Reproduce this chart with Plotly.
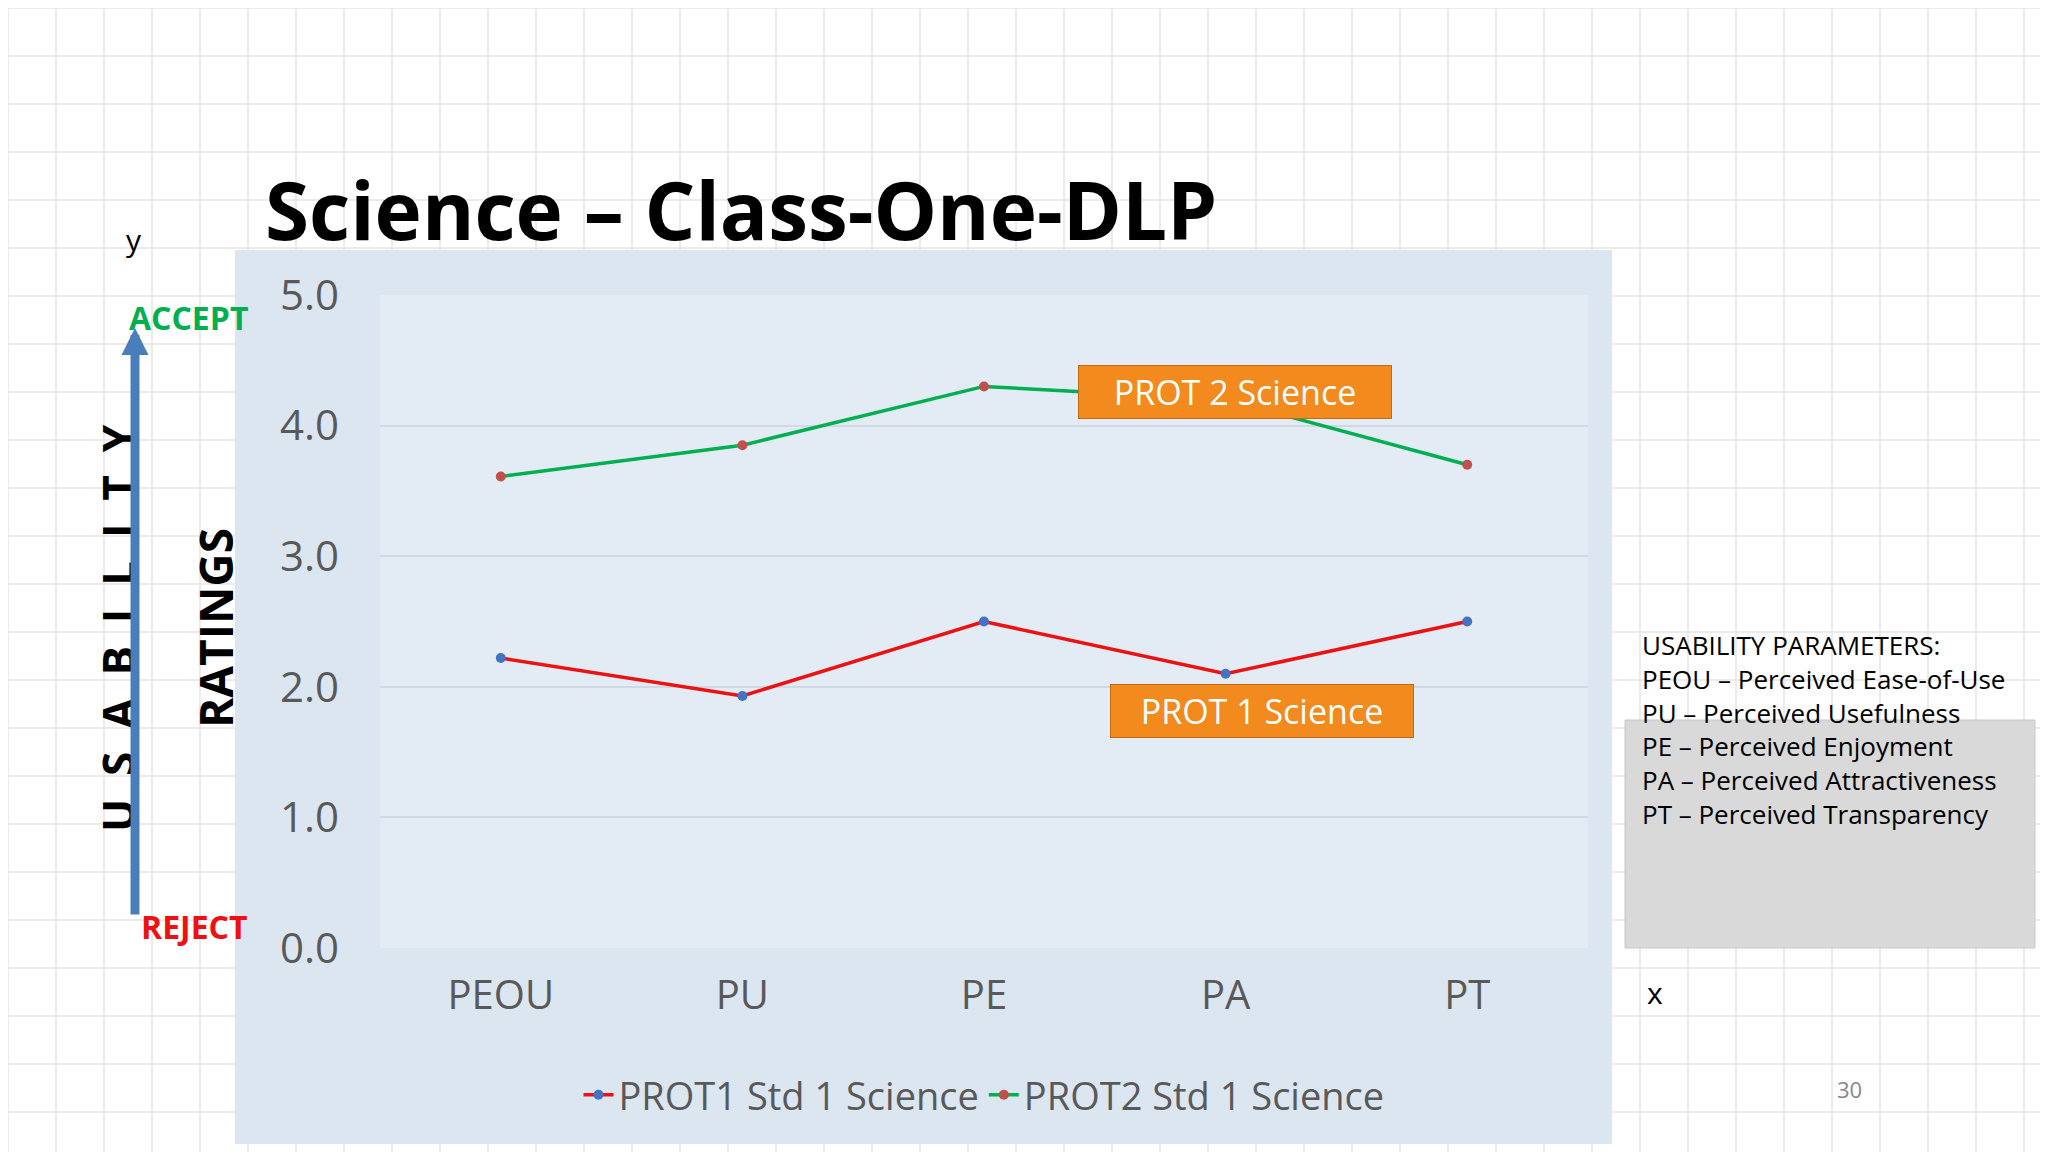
import plotly.graph_objects as go

params = ["PEOU", "PU", "PE", "PA", "PT"]
prot1 = [2.22, 1.93, 2.50, 2.10, 2.50]
prot2 = [3.61, 3.85, 4.30, 4.20, 3.70]
y_ticks = [0, 1, 2, 3, 4, 5]
y_labels = ["0.0", "1.0", "2.0", "3.0", "4.0", "5.0"]
info_lines = ["USABILITY PARAMETERS:", "PEOU – Perceived Ease-of-Use", "PU – Perceived Usefulness",
              "PE – Perceived Enjoyment", "PA – Perceived Attractiveness", "PT – Perceived Transparency"]

W, H = 2048, 1152
L, R, T, B = 372, 1580, 287, 940


def px(x):
    return (x - L) / (R - L)


def py(y):
    return (B - y) / (B - T)


fig = go.Figure()
fig.add_trace(go.Scatter(x=params, y=prot1, name="PROT1 Std 1 Science", mode="lines+markers",
                         line=dict(color="#ee1111", width=3.5),
                         marker=dict(color="#4472c4", size=10)))
fig.add_trace(go.Scatter(x=params, y=prot2, name="PROT2 Std 1 Science", mode="lines+markers",
                         line=dict(color="#00b050", width=3.5),
                         marker=dict(color="#c0504d", size=10)))

shapes = []
# graph-paper background
for gx in range(0, W, 48):
    shapes.append(dict(type="line", xref="paper", yref="paper", x0=px(gx), x1=px(gx), y0=py(0), y1=py(H),
                       line=dict(color="#e4e4e4", width=1.5), layer="below"))
for gy in range(0, H, 48):
    shapes.append(dict(type="line", xref="paper", yref="paper", x0=px(0), x1=px(W), y0=py(gy), y1=py(gy),
                       line=dict(color="#e4e4e4", width=1.5), layer="below"))
# chart box
shapes.append(dict(type="rect", xref="paper", yref="paper", x0=px(227), x1=px(1604), y0=py(242), y1=py(1136),
                   fillcolor="#dce6f1", line=dict(width=0), layer="below"))
shapes.append(dict(type="rect", xref="paper", yref="paper", x0=0, x1=1, y0=0, y1=1,
                   fillcolor="#e3ebf5", line=dict(width=0), layer="below"))
# info box
shapes.append(dict(type="rect", xref="paper", yref="paper", x0=px(1617), x1=px(2027), y0=py(712), y1=py(940),
                   fillcolor="#d9d9d9", line=dict(color="#c8c8c8", width=1)))

ann = [
    dict(x=px(255), y=py(144), text="<b>Science – Class-One-DLP</b>", font=dict(size=80, color="black"),
         xanchor="left"),
    dict(x=px(116), y=py(209), text="y", font=dict(size=30, color="black")),
    dict(x=px(119), y=py(286), text="<b>ACCEPT</b>", font=dict(size=32, color="#00b050")),
    dict(x=px(131), y=py(942), text="<b>REJECT</b>", font=dict(size=32, color="#ee1111")),
    dict(x=px(78), y=py(620), text="<b>U  S  A  B  I  L  I  T  Y</b>", textangle=-90,
         font=dict(size=44, color="black")),
    dict(x=px(174), y=py(620), text="<b>RATINGS</b>", textangle=-90, font=dict(size=46, color="black")),
    dict(x=px(1657), y=py(1007), text="x", font=dict(size=30, color="black")),
    dict(x=px(1856), y=py(1098), text="30", font=dict(size=22, color="#888888")),
    dict(x=px(1384), y=py(357), text="PROT 2 Science", font=dict(size=34, color="white"),
         bgcolor="#f28a1e", bordercolor="#c56a10", borderwidth=1, width=310, height=50),
    dict(x=px(1406), y=py(703), text="PROT 1 Science", font=dict(size=34, color="white"),
         bgcolor="#f28a1e", bordercolor="#c56a10", borderwidth=1, width=300, height=50),
    dict(x=px(1632), y=py(826), text="<br>".join(info_lines), align="left", xanchor="left",
         font=dict(size=26, color="black")),
]
# axis arrow
ann.append(dict(x=px(127), y=py(320), ax=0, ay=588, axref="pixel", ayref="pixel",
                text="", showarrow=True, arrowhead=2, arrowsize=0.6,
                arrowwidth=9, arrowcolor="#4a7ebb"))
for a in ann:
    a.setdefault("xref", "paper")
    a.setdefault("yref", "paper")
    a.setdefault("showarrow", False)

fig.update_layout(
    width=W, height=H, margin=dict(l=L, r=W - R, t=T, b=H - B),
    paper_bgcolor="white", plot_bgcolor="#e3ebf5",
    font=dict(family="Open Sans, Noto Sans, sans-serif"),
    shapes=shapes, annotations=ann,
    xaxis=dict(range=[-0.5, 4.5], showgrid=False, zeroline=False, ticks="",
               tickfont=dict(size=40, color="#595959"), ticklabelstandoff=20),
    yaxis=dict(range=[0, 5], tickvals=y_ticks, ticktext=y_labels, gridcolor="#d0d8e4", gridwidth=1.5,
               zeroline=False, tickfont=dict(size=42, color="#595959"), ticklabelstandoff=40),
    legend=dict(orientation="h", x=0.5, xanchor="center", y=py(1087), yanchor="middle",
                font=dict(size=38, color="#595959"), bgcolor="rgba(0,0,0,0)"),
)

fig.write_html("out.html")
